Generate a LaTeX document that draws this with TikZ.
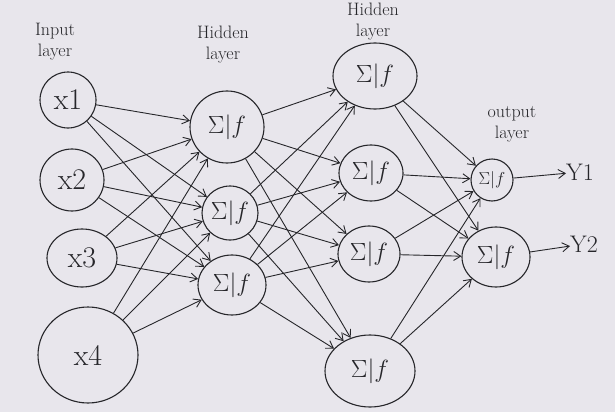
\documentclass[tikz,border=0pt]{standalone}
\usetikzlibrary{shapes.geometric,arrows.meta}
\definecolor{paper}{RGB}{232,230,236}
\definecolor{ink}{RGB}{38,38,42}
\newcommand{\fsX}{\fontsize{30}{32}\selectfont}
\newcommand{\fsA}{\fontsize{34}{36}\selectfont}
\newcommand{\fsB}{\fontsize{26}{28}\selectfont}
\newcommand{\fsC}{\fontsize{19}{20}\selectfont}
\begin{document}
\begin{tikzpicture}[x=1pt,y=-1pt,
  neuron/.style={draw=ink,line width=1.1pt,ellipse,inner sep=0pt,text=ink},
  conn/.style={draw=ink,line width=0.9pt,-{Straight Barb[length=7pt,width=9pt]}},
  lbl/.style={text=ink,font=\fontsize{18}{21}\selectfont,align=center,inner sep=0pt}]
\fill[paper] (0,0) rectangle (615,412);
\useasboundingbox (0,0) rectangle (615,412);
% input layer
\node[neuron,minimum width=56pt,minimum height=56pt,font=\fsX] (x1) at (68,100) {x1};
\node[neuron,minimum width=64pt,minimum height=62pt,font=\fsX] (x2) at (72,180) {x2};
\node[neuron,minimum width=70pt,minimum height=58pt,font=\fsX] (x3) at (82,258) {x3};
\node[neuron,minimum width=100pt,minimum height=96pt,font=\fsX] (x4) at (88,355) {x4};
% hidden layer 1
\node[neuron,minimum width=74pt,minimum height=72pt,font=\fsA] (h1) at (227,127) {$\Sigma|f$};
\node[neuron,minimum width=56pt,minimum height=54pt,font=\fsB] (h2) at (230,213) {$\Sigma|f$};
\node[neuron,minimum width=68pt,minimum height=60pt,font=\fsB] (h3) at (232,285) {$\Sigma|f$};
% hidden layer 2
\node[neuron,minimum width=84pt,minimum height=66pt,font=\fsA] (g1) at (375,76) {$\Sigma|f$};
\node[neuron,minimum width=64pt,minimum height=56pt,font=\fsB] (g2) at (371,173) {$\Sigma|f$};
\node[neuron,minimum width=62pt,minimum height=56pt,font=\fsB] (g3) at (369,254) {$\Sigma|f$};
\node[neuron,minimum width=90pt,minimum height=72pt,font=\fsA] (g4) at (370,371) {$\Sigma|f$};
% output layer
\node[neuron,minimum width=42pt,minimum height=42pt,font=\fsC] (o1) at (492,180) {$\Sigma|f$};
\node[neuron,minimum width=68pt,minimum height=60pt,font=\fsB] (o2) at (496,257) {$\Sigma|f$};
% labels
\node[lbl] (lin) at (55,42) {Input\\layer};
\node[lbl] (lh1) at (223,45) {Hidden\\layer};
\node[lbl] (lh2) at (373,22) {Hidden\\layer};
\node[lbl] (lout) at (512,124) {output\\layer};
\node[lbl,font=\fontsize{24}{24}\selectfont,anchor=west] (y1) at (566,172) {Y1};
\node[lbl,font=\fontsize{24}{24}\selectfont,anchor=west] (y2) at (570,244) {Y2};
% connections
\foreach \s in {x1,x2,x3,x4}
  \foreach \t in {h1,h2,h3}
    \draw[conn] (\s) -- (\t);
\foreach \s in {h1,h2,h3}
  \foreach \t in {g1,g2,g3,g4}
    \draw[conn] (\s) -- (\t);
\foreach \s in {g1,g2,g3,g4}
  \foreach \t in {o1,o2}
    \draw[conn] (\s) -- (\t);
\draw[conn] (o1) -- (y1);
\draw[conn] (o2) -- (y2);
\end{tikzpicture}
\end{document}
